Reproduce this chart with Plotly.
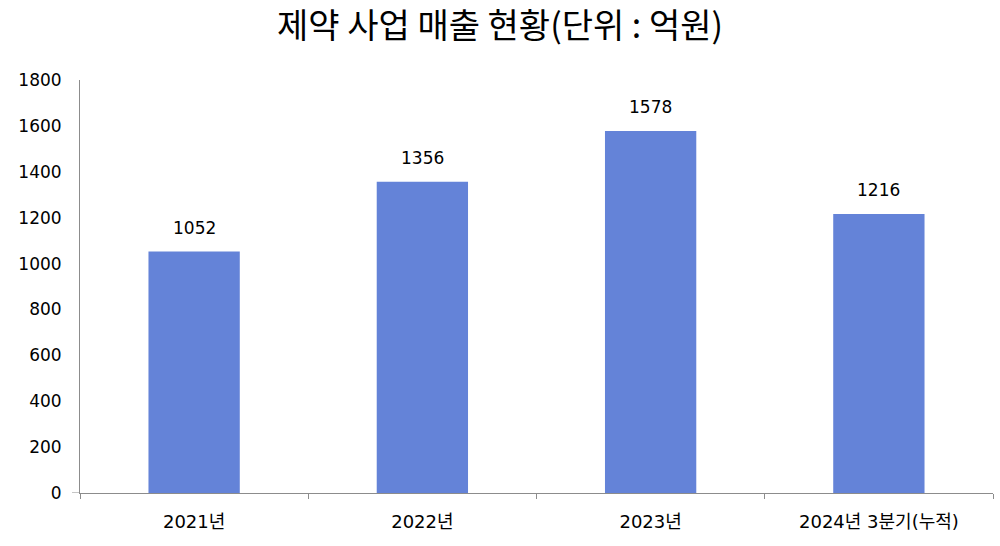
import plotly.graph_objects as go

categories = ["2021년", "2022년", "2023년", "2024년 3분기(누적)"]
values = [1052, 1356, 1578, 1216]
y_ticks = [0, 200, 400, 600, 800, 1000, 1200, 1400, 1600, 1800]

FONT = "DejaVu Sans, Noto Sans CJK KR"
TFONT = "Noto Sans CJK KR"
BAR = "#6483D8"
AX = "#8c8c8c"

fig = go.Figure(go.Bar(x=categories, y=values, marker=dict(color=BAR, line=dict(width=0)),
                       width=0.4, hoverinfo="skip"))

for c, v in zip(categories, values):
    fig.add_annotation(x=c, y=v, text=str(v), showarrow=False, yanchor="bottom",
                       yshift=12, font=dict(family=FONT, size=17, color="#000"))

fig.add_shape(type="line", xref="paper", yref="y", x0=-8/913, x1=0, y0=0, y1=0,
              line=dict(color=AX, width=1))

fig.update_layout(
    width=1000, height=546,
    margin=dict(l=80, r=7, t=80, b=53, autoexpand=False),
    paper_bgcolor="white", plot_bgcolor="white",
    showlegend=False,
    title=dict(text="제약 사업 매출 현황(단위 : 억원)", x=0.5, xanchor="center",
               y=1 - 26/546, yanchor="middle", yref="container",
               font=dict(family=TFONT, size=34, color="#000")),
    font=dict(family=FONT, color="#000"),
    xaxis=dict(type="category", showline=True, linecolor=AX, linewidth=1,
               ticks="outside", tickson="boundaries", ticklen=5, tickcolor=AX,
               tickfont=dict(family=FONT, size=18, color="#000"),
               ticklabelstandoff=12, showgrid=False, zeroline=False),
    yaxis=dict(range=[0, 1800], tickvals=y_ticks, showline=True, linecolor=AX, linewidth=1,
               ticks="", showgrid=False, zeroline=False,
               tickfont=dict(family=FONT, size=17, color="#000"),
               ticklabelstandoff=14),
)

fig.write_html("out.html", config={"displayModeBar": False},
               post_script="document.body.style.margin='0';document.body.style.overflow='hidden';")
